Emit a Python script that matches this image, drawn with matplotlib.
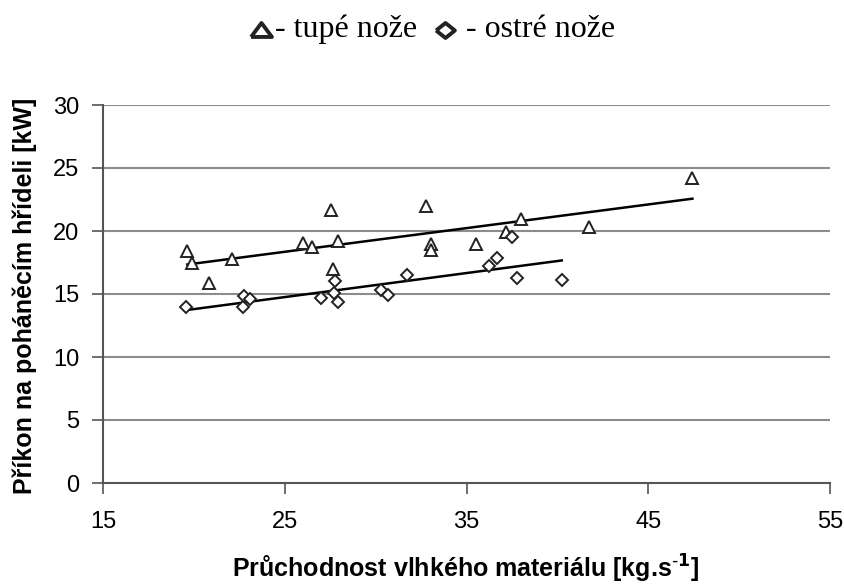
import numpy as np
import matplotlib
matplotlib.use('Agg')
import matplotlib.pyplot as plt
from matplotlib.lines import Line2D

# ── data ────────────────────────────────────────────────────────────────────
blunt_x = [19.64, 19.90, 20.85, 22.08, 25.99, 26.50, 27.55, 27.67, 27.95,
           32.76, 33.03, 33.05, 35.51, 37.18, 38.00, 41.75, 47.43]
blunt_y = [18.40, 17.50, 15.90, 17.80, 19.07, 18.75, 21.70, 17.00, 19.20,
           22.00, 19.00, 18.50, 19.00, 19.90, 20.95, 20.35, 24.18]

sharp_x = [19.57, 22.69, 22.76, 23.09, 26.98, 27.71, 27.77, 27.95, 30.28,
           30.70, 31.71, 36.24, 36.66, 37.49, 37.76, 40.24]
sharp_y = [13.94, 14.00, 14.84, 14.58, 14.70, 15.05, 16.03, 14.39, 15.30,
           14.90, 16.50, 17.25, 17.88, 19.55, 16.25, 16.10]

x_ticks = [15, 25, 35, 45, 55]
y_ticks = [0, 5, 10, 15, 20, 25, 30]

W, H = 844, 585
fig = plt.figure(figsize=(W / 100, H / 100), dpi=100)
ax = fig.add_axes([103 / W, 1 - 483 / H, (830 - 103) / W, (483 - 105) / H])

SANS = ['Liberation Sans', 'DejaVu Sans']
SERIF = ['Liberation Serif', 'DejaVu Serif']
GRID = '#8c8c8c'
EDGE = '#222222'

# header symbols are a bit wider than tall in the original
TRI = [(-1.0, -0.62), (1.0, -0.62), (0.0, 0.72), (-1.0, -0.62)]
DIA = [(-1.0, 0.0), (0.0, 0.8), (1.0, 0.0), (0.0, -0.8), (-1.0, 0.0)]


def trend(ax, x, y):
    """Excel style linear trendline from min x to max x."""
    x = np.asarray(x)
    k, q = np.polyfit(x, np.asarray(y), 1)
    xs = np.array([x.min(), x.max()])
    ax.plot(xs, k * xs + q, color='black', lw=1.8, zorder=2)


ax.plot(blunt_x, blunt_y, ls='none', marker='^', ms=8.5, mfc='white',
        mec=EDGE, mew=1.4, zorder=3)
ax.plot(sharp_x, sharp_y, ls='none', marker='D', ms=6.3, mfc='white',
        mec=EDGE, mew=1.4, zorder=3)
trend(ax, blunt_x, blunt_y)
trend(ax, sharp_x, sharp_y)

ax.set_xlim(15, 55)
ax.set_ylim(0, 30)
ax.set_xticks(x_ticks)
ax.set_yticks(y_ticks)
for y in y_ticks[1:]:
    ax.axhline(y, color=GRID, lw=1.5, zorder=1)

for s in ['top', 'right']:
    ax.spines[s].set_visible(False)
for s in ['left', 'bottom']:
    ax.spines[s].set_color('#555555')
    ax.spines[s].set_linewidth(1.5)

ax.tick_params(axis='both', length=8, width=1.2, color='#555555',
               labelsize=17)
ax.tick_params(axis='x', pad=12)
ax.tick_params(axis='y', pad=9)
for lab in ax.get_xticklabels() + ax.get_yticklabels():
    lab.set_family(SANS)

# axis titles placed in figure pixels
fig.text(466 / W, 1 - 578 / H,
         'Průchodnost vlhkého materiálu [kg.s$^{\\text{-}\\mathbf{1}}$]',
         family=SANS, fontsize=18, fontweight='bold',
         ha='center', va='baseline')
fig.text(25 / W, 1 - 296 / H, 'Příkon na poháněcím hřídeli [kW]',
         family=SANS, fontsize=18, fontweight='bold', rotation=90,
         ha='center', va='center')

# ── header legend ───────────────────────────────────────────────────────────
base = 1 - 37 / H
fig.add_artist(Line2D([261 / W], [1 - 30 / H], marker=TRI, ms=15,
                      mfc='white', mec=EDGE, mew=2.8, ls='none'))
fig.text(275 / W, base, '- tupé nože', family=SERIF, fontsize=23,
         va='baseline', ha='left')
fig.add_artist(Line2D([445 / W], [1 - 30 / H], marker=DIA, ms=13.5,
                      mfc='white', mec=EDGE, mew=2.8, ls='none'))
fig.text(466 / W, base, '- ostré nože', family=SERIF, fontsize=23,
         va='baseline', ha='left')

fig.savefig('out.png', dpi=100, facecolor='white')
